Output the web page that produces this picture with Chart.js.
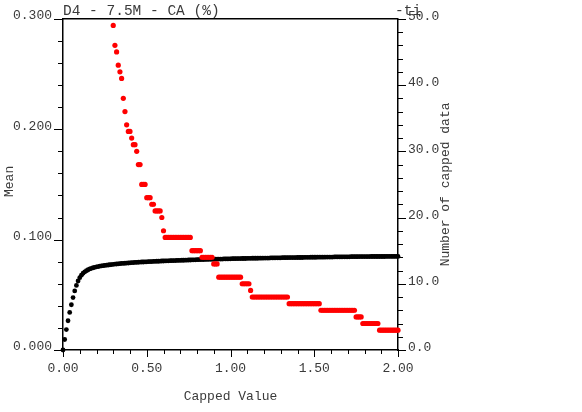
<!DOCTYPE html>
<html>
<head>
<meta charset="utf-8">
<script src="https://cdn.jsdelivr.net/npm/chart.js@4/dist/chart.umd.min.js"></script>
<style>
  html, body { margin: 0; padding: 0; background: #fff; }
  #wrap { width: 582px; height: 412px; }
</style>
</head>
<body>
<div id="wrap"><canvas id="chart" width="582" height="412"></canvas></div>
<script>
// cap values run 0.00 .. 2.00 in steps of 0.01
const capStep = 0.01;

// mean of the capped data, one value per cap (0.00 .. 2.00)
const meanValues = [
  0.0000, 0.0095, 0.0185, 0.0265, 0.0340, 0.0410, 0.0475, 0.0535, 0.0585, 0.0625,
  0.0655, 0.0678, 0.0695, 0.0708, 0.0718, 0.0727, 0.0734, 0.0740, 0.0745, 0.0749,
  0.0753, 0.0756, 0.0759, 0.0762, 0.0764, 0.0766, 0.0768, 0.0770, 0.0772, 0.0774,
  0.0776, 0.0778, 0.0779, 0.0781, 0.0782, 0.0784, 0.0785, 0.0786, 0.0787, 0.0788,
  0.0790, 0.0791, 0.0792, 0.0793, 0.0794, 0.0795, 0.0796, 0.0797, 0.0797, 0.0798,
  0.0799, 0.0800, 0.0801, 0.0801, 0.0802, 0.0803, 0.0804, 0.0804, 0.0805, 0.0806,
  0.0806, 0.0807, 0.0808, 0.0808, 0.0809, 0.0809, 0.0810, 0.0810, 0.0811, 0.0811,
  0.0812, 0.0813, 0.0813, 0.0814, 0.0814, 0.0815, 0.0815, 0.0816, 0.0817, 0.0817,
  0.0818, 0.0818, 0.0819, 0.0819, 0.0819, 0.0820, 0.0820, 0.0821, 0.0821, 0.0822,
  0.0822, 0.0823, 0.0823, 0.0824, 0.0824, 0.0824, 0.0825, 0.0825, 0.0825, 0.0826,
  0.0826, 0.0827, 0.0827, 0.0827, 0.0828, 0.0828, 0.0828, 0.0829, 0.0829, 0.0829,
  0.0830, 0.0830, 0.0830, 0.0831, 0.0831, 0.0831, 0.0831, 0.0832, 0.0832, 0.0832,
  0.0833, 0.0833, 0.0833, 0.0833, 0.0834, 0.0834, 0.0834, 0.0835, 0.0835, 0.0835,
  0.0835, 0.0836, 0.0836, 0.0836, 0.0836, 0.0837, 0.0837, 0.0837, 0.0837, 0.0837,
  0.0838, 0.0838, 0.0838, 0.0838, 0.0839, 0.0839, 0.0839, 0.0839, 0.0840, 0.0840,
  0.0840, 0.0840, 0.0841, 0.0841, 0.0841, 0.0841, 0.0841, 0.0842, 0.0842, 0.0842,
  0.0842, 0.0842, 0.0843, 0.0843, 0.0843, 0.0843, 0.0843, 0.0844, 0.0844, 0.0844,
  0.0844, 0.0844, 0.0845, 0.0845, 0.0845, 0.0845, 0.0845, 0.0846, 0.0846, 0.0846,
  0.0846, 0.0846, 0.0846, 0.0846, 0.0847, 0.0847, 0.0847, 0.0847, 0.0847, 0.0847,
  0.0847, 0.0847, 0.0847, 0.0848, 0.0848, 0.0848, 0.0848, 0.0848, 0.0848, 0.0848,
  0.0848
];

// number of capped data, one value per cap from 0.30 (lower caps are off the top)
const countStart = 0.30;
const cappedCounts = [
  49, 46, 45, 43, 42, 41, 38, 36, 34, 33,
  33, 32, 31, 31, 30, 28, 28, 25, 25, 25,
  23, 23, 23, 22, 22, 21, 21, 21, 21, 20,
  18, 17, 17, 17, 17, 17, 17, 17, 17, 17,
  17, 17, 17, 17, 17, 17, 17, 15, 15, 15,
  15, 15, 15, 14, 14, 14, 14, 14, 14, 14,
  13, 13, 13, 11, 11, 11, 11, 11, 11, 11,
  11, 11, 11, 11, 11, 11, 11, 10, 10, 10,
  10, 10, 9, 8, 8, 8, 8, 8, 8, 8,
  8, 8, 8, 8, 8, 8, 8, 8, 8, 8,
  8, 8, 8, 8, 8, 7, 7, 7, 7, 7,
  7, 7, 7, 7, 7, 7, 7, 7, 7, 7,
  7, 7, 7, 7, 6, 6, 6, 6, 6, 6,
  6, 6, 6, 6, 6, 6, 6, 6, 6, 6,
  6, 6, 6, 6, 6, 5, 5, 5, 5, 4,
  4, 4, 4, 4, 4, 4, 4, 4, 4, 3,
  3, 3, 3, 3, 3, 3, 3, 3, 3, 3,
  3
];

// tick labels
const capTicks = [0, 0.5, 1.0, 1.5, 2.0];
const meanTicks = [0, 0.1, 0.2, 0.3];
const countTicks = [0, 10, 20, 30, 40, 50];

const FONT = '"Liberation Mono", "Courier New", monospace';
const TEXT = '#3a3a3a';

const meanPoints = meanValues.map((y, i) => ({ x: +(i * capStep).toFixed(2), y }));
const countPoints = cappedCounts.map((y, i) => ({ x: +(countStart + i * capStep).toFixed(2), y }));

function setTicks(list) {
  return scale => { scale.ticks = list.map(v => ({ value: v })); };
}

// minor/major tick marks, frame top and the free texts
const framePlugin = {
  id: 'frame',
  afterDraw(chart) {
    const { ctx, chartArea: a, scales } = chart;
    ctx.save();
    ctx.strokeStyle = '#000';
    ctx.lineWidth = 1.5;
    ctx.beginPath();
    ctx.moveTo(a.left, a.top);
    ctx.lineTo(a.right, a.top);
    ctx.stroke();

    ctx.lineWidth = 1;
    const marks = (scale, max, step, major, draw) => {
      const n = Math.round(max / step);
      for (let k = 0; k <= n; k++) {
        const v = k * step;
        const isMajor = Math.abs(v / major - Math.round(v / major)) < 1e-6;
        const p = Math.round(scale.getPixelForValue(v)) + 0.5;
        ctx.beginPath();
        draw(p, isMajor);
        ctx.stroke();
      }
    };
    marks(scales.x, 2, 0.1, 0.5, (p, m) => { ctx.moveTo(p, a.bottom); ctx.lineTo(p, a.bottom + (m ? 7 : 4)); });
    marks(scales.yMean, 0.3, 0.02, 0.1, (p, m) => { ctx.moveTo(a.left - (m ? 9 : 5), p); ctx.lineTo(a.left, p); });
    marks(scales.yCount, 50, 2, 10, (p, m) => { ctx.moveTo(a.right, p); ctx.lineTo(a.right + (m ? 8 : 5), p); });

    ctx.fillStyle = TEXT;
    ctx.font = '14.5px ' + FONT;
    ctx.textBaseline = 'alphabetic';
    ctx.textAlign = 'left';
    ctx.fillText('D4 - 7.5M - CA (%)', a.left, 15);
    ctx.fillText('-ti', a.right - 3, 15);

    ctx.font = '13px ' + FONT;
    ctx.textAlign = 'center';
    ctx.textBaseline = 'middle';
    ctx.fillText('Capped Value', (a.left + a.right) / 2, 397);

    ctx.save();
    ctx.translate(10, (a.top + a.bottom) / 2 - 3);
    ctx.rotate(-Math.PI / 2);
    ctx.fillText('Mean', 0, 0);
    ctx.restore();

    ctx.save();
    ctx.translate(446, (a.top + a.bottom) / 2);
    ctx.rotate(-Math.PI / 2);
    ctx.fillText('Number of capped data', 0, 0);
    ctx.restore();

    ctx.restore();
  }
};

new Chart(document.getElementById('chart'), {
  type: 'scatter',
  data: {
    datasets: [
      {
        label: 'Number of capped data',
        data: countPoints,
        yAxisID: 'yCount',
        backgroundColor: '#ff0000',
        borderColor: '#ff0000',
        pointRadius: 2.6,
        pointBorderWidth: 0,
        clip: false
      },
      {
        label: 'Mean',
        data: meanPoints,
        yAxisID: 'yMean',
        backgroundColor: '#000',
        borderColor: '#000',
        pointRadius: 2.4,
        pointBorderWidth: 0,
        clip: false
      }
    ]
  },
  options: {
    responsive: false,
    animation: false,
    layout: { padding: { top: 16, left: 0, right: 0, bottom: 0 } },
    plugins: { legend: { display: false }, tooltip: { enabled: false } },
    scales: {
      x: {
        type: 'linear',
        position: 'bottom',
        min: 0,
        max: 2,
        afterBuildTicks: setTicks(capTicks),
        afterFit: s => { s.height = 62; },
        grid: { display: false, drawTicks: false },
        border: { display: true, color: '#000', width: 1.5 },
        ticks: {
          font: { family: FONT, size: 13 },
          color: TEXT,
          padding: 11,
          maxRotation: 0,
          autoSkip: false,
          callback: v => Number(v).toFixed(2)
        }
      },
      yMean: {
        type: 'linear',
        position: 'left',
        min: 0,
        max: 0.3,
        afterBuildTicks: setTicks(meanTicks),
        afterFit: s => { s.width = 63; },
        grid: { display: false, drawTicks: false },
        border: { display: true, color: '#000', width: 1.5 },
        ticks: {
          font: { family: FONT, size: 13 },
          color: TEXT,
          padding: 11,
          labelOffset: -3,
          callback: v => Number(v).toFixed(3)
        }
      },
      yCount: {
        type: 'linear',
        position: 'right',
        min: 0,
        max: 50,
        afterBuildTicks: setTicks(countTicks),
        afterFit: s => { s.width = 184; },
        grid: { display: false, drawTicks: false },
        border: { display: true, color: '#000', width: 1.5 },
        ticks: {
          font: { family: FONT, size: 13 },
          color: TEXT,
          padding: 10,
          labelOffset: -2,
          callback: v => Number(v).toFixed(1)
        }
      }
    }
  },
  plugins: [framePlugin]
});
</script>
</body>
</html>
